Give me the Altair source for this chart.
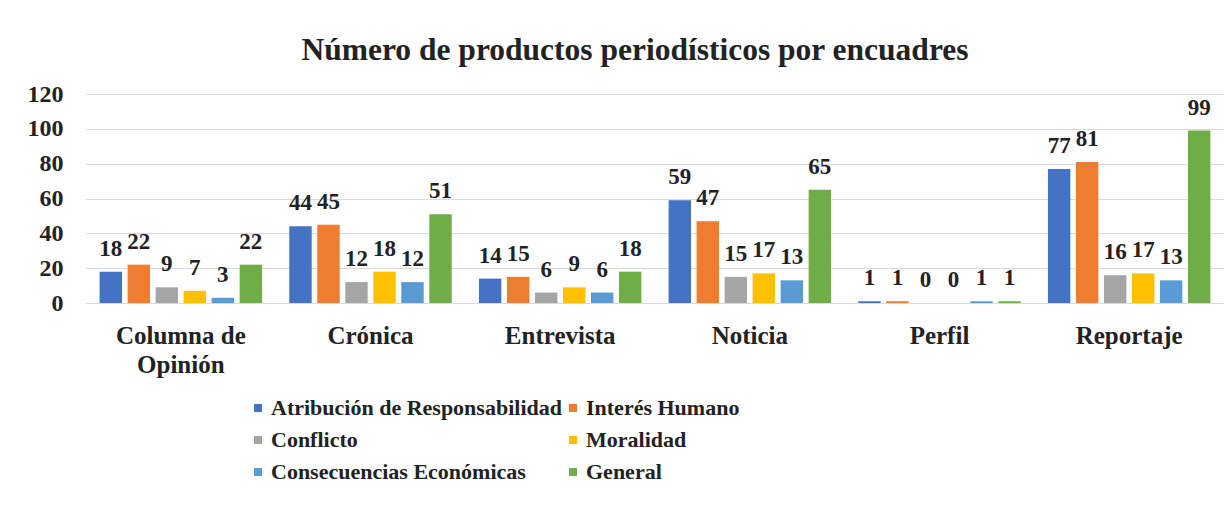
import altair as alt
import pandas as pd

categories = ["Columna de Opinión", "Crónica", "Entrevista", "Noticia", "Perfil", "Reportaje"]
series = ["Atribución de Responsabilidad", "Interés Humano", "Conflicto",
          "Moralidad", "Consecuencias Económicas", "General"]
colors = ["#4472C4", "#ED7D31", "#A5A5A5", "#FFC000", "#5B9BD5", "#70AD47"]
y_ticks = [0, 20, 40, 60, 80, 100, 120]

atribucion = [18, 44, 14, 59, 1, 77]
interes = [22, 45, 15, 47, 1, 81]
conflicto = [9, 12, 6, 15, 0, 16]
moralidad = [7, 18, 9, 17, 0, 17]
consecuencias = [3, 12, 6, 13, 1, 13]
general = [22, 51, 18, 65, 1, 99]

values_by_series = [atribucion, interes, conflicto, moralidad, consecuencias, general]
rows = []
for s, vals in zip(series, values_by_series):
    for c, v in zip(categories, vals):
        rows.append({"Categoria": c, "Encuadre": s, "Valor": v})
df = pd.DataFrame(rows)

FONT = "Liberation Serif"
TXT = "#222222"

x_enc = alt.X("Categoria:N", sort=categories,
              scale=alt.Scale(paddingInner=0.114, paddingOuter=0.057),
              axis=alt.Axis(title=None, labelAngle=0, domain=False, ticks=False,
                            labelFont=FONT, labelFontWeight="bold", labelFontSize=25,
                            labelColor=TXT, labelPadding=20, labelLineHeight=29,
                            labelExpr="datum.label == 'Columna de Opinión' ? ['Columna de', 'Opinión'] : datum.label"))
xoff = alt.XOffset("Encuadre:N", sort=series,
                   scale=alt.Scale(paddingInner=0.2, paddingOuter=0.1))
y_enc = alt.Y("Valor:Q", scale=alt.Scale(domain=[0, 120]),
              axis=alt.Axis(title=None, values=y_ticks, tickCount=7,
                            labelOverlap=False,
                            domain=False, ticks=False, gridColor="#d9d9d9",
                            labelFont=FONT, labelFontWeight="bold", labelFontSize=24,
                            labelColor=TXT, labelPadding=23))

bars = alt.Chart(df).mark_bar().encode(
    x=x_enc, xOffset=xoff, y=y_enc,
    color=alt.Color("Encuadre:N", sort=series,
                    scale=alt.Scale(domain=series, range=colors),
                    legend=alt.Legend(title=None, orient="none", legendX=161, legendY=303,
                                      direction="horizontal",
                                      columns=2, symbolType="square", symbolSize=64,
                                      symbolStrokeWidth=0, labelFont=FONT,
                                      labelFontWeight="bold", labelFontSize=22,
                                      labelColor=TXT, rowPadding=10, columnPadding=0,
                                      labelOffset=2, labelLimit=0))
)

labels = alt.Chart(df).mark_text(font=FONT, fontWeight="bold", fontSize=23,
                                 color=TXT, baseline="alphabetic", dy=-16).encode(
    x=x_enc, xOffset=xoff, y=y_enc, text=alt.Text("Valor:Q")
)

chart = (bars + labels).properties(
    width=1138, height=209,
    padding={"left": 78, "top": 86, "right": 0, "bottom": 212},
    autosize=alt.AutoSizeParams(type="none"),
    background="white",
    title=alt.TitleParams("Número de productos periodísticos por encuadres",
                          font=FONT, fontWeight="bold", fontSize=31.5, color=TXT,
                          anchor="middle", dx=-20, offset=16)
).configure_view(stroke=None)

chart.save("out.html", embed_options={"renderer": "svg", "actions": False})
